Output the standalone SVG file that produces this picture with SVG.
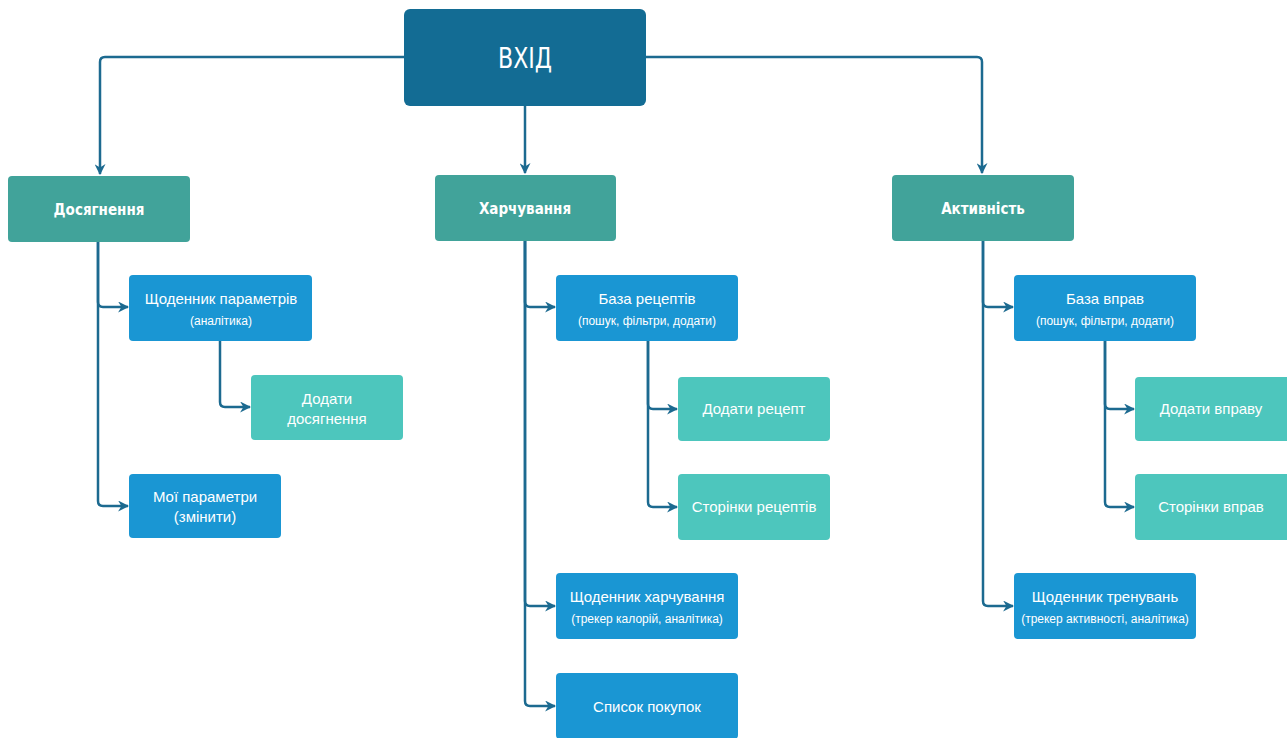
<svg xmlns="http://www.w3.org/2000/svg" width="1287" height="738" viewBox="0 0 1287 738">
<defs>
<style>
.root{fill:#136c94}
.l1{fill:#41a39a}
.l2{fill:#1a96d3}
.l3{fill:#4dc6bd}
.c{fill:none;stroke:#1c6a90;stroke-width:2.5;marker-end:url(#ah)}
text{fill:#fff;text-anchor:middle;font-family:"Liberation Sans",Arial,sans-serif}
.tr{font-family:"Liberation Sans Narrow","DejaVu Sans Condensed",sans-serif;font-size:28px}
.t1{font-family:"Liberation Sans Narrow","DejaVu Sans Condensed",sans-serif;font-size:15px;font-weight:bold}
.t2{font-size:15px}
.ts{font-size:12px}
</style>
<marker id="ah" viewBox="0 0 10 10" refX="9" refY="5" markerWidth="11" markerHeight="11" markerUnits="userSpaceOnUse" orient="auto">
<path d="M0,0 L10,5 L0,10 L3,5 z" fill="#1c6a90"/>
</marker>
</defs>
<rect width="1287" height="738" fill="#fff"/>
<g id="connectors">
<path class="c" d="M404,57 H105 Q100,57 100,62 V174"/>
<path class="c" d="M525,106 V173"/>
<path class="c" d="M646,57 H977 Q982,57 982,62 V173"/>
<path class="c" d="M98,242 V302 Q98,307 103,307 H128"/>
<path class="c" d="M98,242 V501 Q98,506 103,506 H128"/>
<path class="c" d="M220,341 V402 Q220,407 225,407 H250"/>
<path class="c" d="M525,241 V302 Q525,307 530,307 H555"/>
<path class="c" d="M525,241 V601 Q525,606 530,606 H555"/>
<path class="c" d="M525,241 V701 Q525,706 530,706 H555"/>
<path class="c" d="M648,341 V404 Q648,409 653,409 H677"/>
<path class="c" d="M648,341 V502 Q648,507 653,507 H677"/>
<path class="c" d="M983,241 V302 Q983,307 988,307 H1013"/>
<path class="c" d="M983,241 V601 Q983,606 988,606 H1013"/>
<path class="c" d="M1105,341 V404 Q1105,409 1110,409 H1134"/>
<path class="c" d="M1105,341 V502 Q1105,507 1110,507 H1134"/>
</g>
<g id="vkhid"><rect class="root" x="404" y="9" width="242" height="97" rx="6"/><text class="tr" x="525" y="68" textLength="54" lengthAdjust="spacingAndGlyphs">ВХІД</text></g>
<g id="dosyahnennia"><rect class="l1" x="8" y="176" width="182" height="66" rx="4"/><text class="t1" x="99" y="215">Досягнення</text></g>
<g id="kharchuvannia"><rect class="l1" x="435" y="175" width="181" height="66" rx="4"/><text class="t1" x="525" y="214">Харчування</text></g>
<g id="aktyvnist"><rect class="l1" x="892" y="175" width="182" height="66" rx="4"/><text class="t1" x="983" y="214">Активність</text></g>
<g id="shchodennyk-parametriv"><rect class="l2" x="129" y="275" width="183" height="66" rx="4"/><text class="t2" x="221" y="304">Щоденник параметрів</text><text class="ts" x="221" y="325">(аналітика)</text></g>
<g id="dodaty-dosiahnennia"><rect class="l3" x="251" y="375" width="152" height="65" rx="4"/><text class="t2" x="327" y="404">Додати</text><text class="t2" x="327" y="424">досягнення</text></g>
<g id="moi-parametry"><rect class="l2" x="129" y="474" width="152" height="64" rx="4"/><text class="t2" x="205" y="502">Мої параметри</text><text class="t2" x="205" y="522">(змінити)</text></g>
<g id="baza-retseptiv"><rect class="l2" x="556" y="275" width="182" height="66" rx="4"/><text class="t2" x="647" y="304">База рецептів</text><text class="ts" x="647" y="325">(пошук, фільтри, додати)</text></g>
<g id="dodaty-retsept"><rect class="l3" x="678" y="377" width="152" height="64" rx="4"/><text class="t2" x="754" y="414">Додати рецепт</text></g>
<g id="storinky-retseptiv"><rect class="l3" x="678" y="474" width="152" height="66" rx="4"/><text class="t2" x="754" y="512">Сторінки рецептів</text></g>
<g id="shchodennyk-kharchuvannia"><rect class="l2" x="556" y="573" width="182" height="66" rx="4"/><text class="t2" x="647" y="602">Щоденник харчування</text><text class="ts" x="647" y="623">(трекер калорій, аналітика)</text></g>
<g id="spysok-pokupok"><rect class="l2" x="556" y="673" width="182" height="66" rx="4"/><text class="t2" x="647" y="712">Список покупок</text></g>
<g id="baza-vprav"><rect class="l2" x="1014" y="275" width="182" height="66" rx="4"/><text class="t2" x="1105" y="304">База вправ</text><text class="ts" x="1105" y="325">(пошук, фільтри, додати)</text></g>
<g id="dodaty-vpravu"><rect class="l3" x="1135" y="377" width="162" height="64" rx="4"/><text class="t2" x="1211" y="414">Додати вправу</text></g>
<g id="storinky-vprav"><rect class="l3" x="1135" y="474" width="162" height="66" rx="4"/><text class="t2" x="1211" y="512">Сторінки вправ</text></g>
<g id="shchodennyk-trenuvan"><rect class="l2" x="1014" y="573" width="182" height="66" rx="4"/><text class="t2" x="1105" y="602">Щоденник тренувань</text><text class="ts" x="1105" y="623">(трекер активності, аналітика)</text></g>
</svg>
